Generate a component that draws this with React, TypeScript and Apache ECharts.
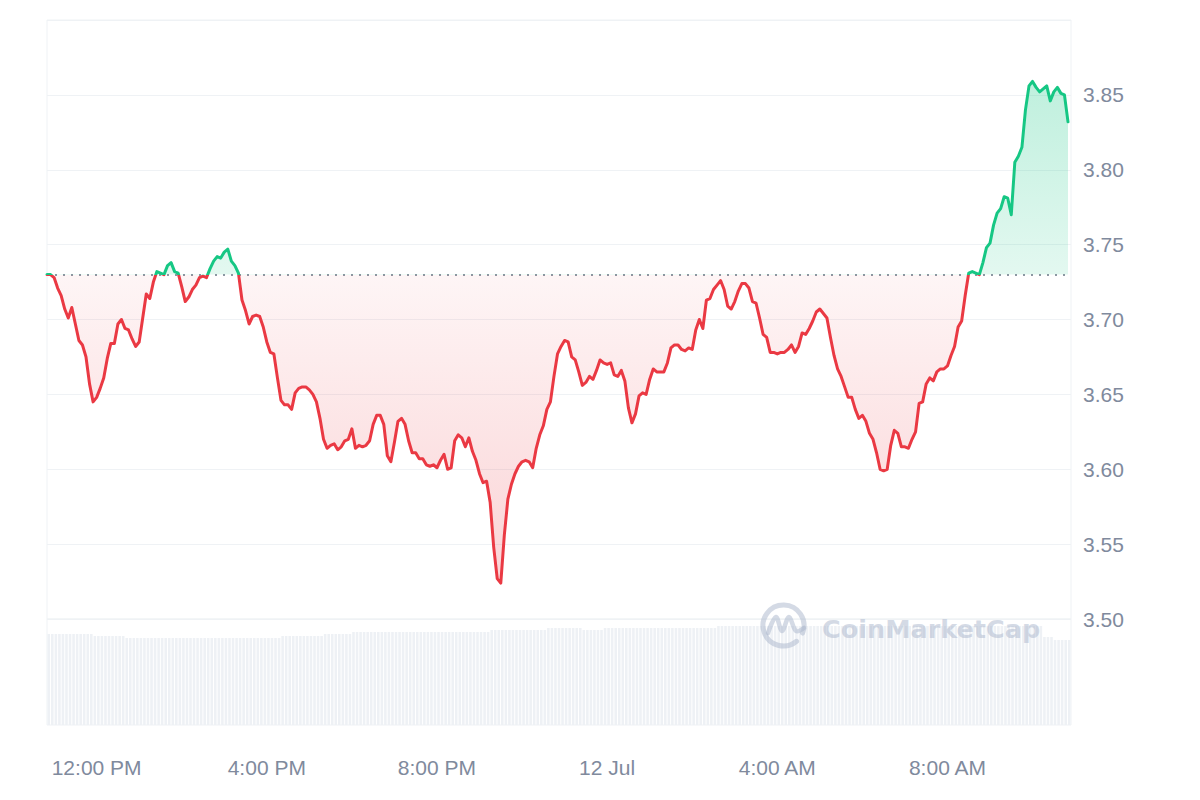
import React, { useEffect, useRef } from "react";
import * as echarts from "echarts";

// 5-minute price samples, starting 10:50 AM (11 Jul) to 10:50 AM (12 Jul)
const prices: number[] = [
  3.730, 3.730, 3.728, 3.721, 3.716, 3.707, 3.701, 3.708, 3.697, 3.686, 3.683, 3.675,
  3.657, 3.645, 3.648, 3.654, 3.661, 3.674, 3.684, 3.684, 3.697, 3.700, 3.694, 3.693,
  3.687, 3.682, 3.685, 3.701, 3.717, 3.714, 3.725, 3.732, 3.731, 3.730, 3.736, 3.738,
  3.732, 3.731, 3.722, 3.712, 3.715, 3.720, 3.723, 3.728, 3.729, 3.728, 3.734, 3.739,
  3.742, 3.741, 3.745, 3.747, 3.739, 3.736, 3.731, 3.713, 3.706, 3.697, 3.702, 3.703,
  3.702, 3.695, 3.685, 3.678, 3.677, 3.661, 3.646, 3.643, 3.643, 3.640, 3.651, 3.654,
  3.655, 3.655, 3.653, 3.650, 3.645, 3.634, 3.620, 3.614, 3.616, 3.617, 3.613, 3.615,
  3.619, 3.620, 3.627, 3.614, 3.616, 3.615, 3.616, 3.619, 3.630, 3.636, 3.636, 3.630,
  3.609, 3.605, 3.618, 3.632, 3.634, 3.630, 3.619, 3.611, 3.611, 3.607, 3.607, 3.603,
  3.602, 3.603, 3.601, 3.606, 3.610, 3.600, 3.601, 3.619, 3.623, 3.621, 3.615, 3.621,
  3.612, 3.606, 3.597, 3.591, 3.592, 3.578, 3.548, 3.527, 3.524, 3.556, 3.580, 3.590,
  3.597, 3.602, 3.605, 3.606, 3.605, 3.601, 3.614, 3.623, 3.629, 3.640, 3.645, 3.662,
  3.677, 3.682, 3.686, 3.685, 3.675, 3.673, 3.665, 3.656, 3.658, 3.662, 3.660, 3.666,
  3.673, 3.671, 3.670, 3.671, 3.663, 3.662, 3.666, 3.659, 3.641, 3.631, 3.637, 3.649,
  3.651, 3.650, 3.660, 3.667, 3.665, 3.665, 3.665, 3.671, 3.681, 3.683, 3.683, 3.680,
  3.679, 3.681, 3.680, 3.693, 3.700, 3.694, 3.713, 3.714, 3.720, 3.723, 3.726, 3.720,
  3.709, 3.707, 3.712, 3.719, 3.724, 3.724, 3.721, 3.712, 3.711, 3.701, 3.690, 3.688,
  3.678, 3.678, 3.677, 3.678, 3.678, 3.680, 3.683, 3.678, 3.682, 3.691, 3.690, 3.694,
  3.699, 3.705, 3.707, 3.704, 3.701, 3.688, 3.676, 3.667, 3.662, 3.655, 3.648, 3.648,
  3.640, 3.634, 3.636, 3.632, 3.624, 3.620, 3.611, 3.600, 3.599, 3.600, 3.616, 3.626,
  3.624, 3.615, 3.615, 3.614, 3.620, 3.625, 3.644, 3.645, 3.657, 3.661, 3.659, 3.665,
  3.667, 3.667, 3.669, 3.676, 3.682, 3.695, 3.699, 3.716, 3.731, 3.732, 3.731, 3.730,
  3.738, 3.748, 3.751, 3.763, 3.771, 3.774, 3.782, 3.781, 3.770, 3.805, 3.809, 3.815,
  3.840, 3.856, 3.859, 3.855, 3.852, 3.854, 3.856, 3.846, 3.852, 3.855, 3.851, 3.850, 3.832,
];

// volume bars (relative units), one per 5-minute slot
const volumes: number[] = [
  91, 91, 91, 91, 91, 91, 91, 91, 91, 91, 91, 91, 91,
  89, 89, 89, 89, 89, 89, 89, 89, 89,
  87, 87, 87, 87, 87, 87, 87, 87, 87, 87, 87, 87, 87, 87, 87, 87, 87, 87, 87, 87, 87, 87,
  87, 87, 87, 87, 87, 87, 87, 87, 87, 87, 87, 87, 87, 87, 87, 87, 87, 87, 87, 87, 87, 87,
  89, 89, 89, 89, 89, 89, 89, 89, 89, 89, 89, 89,
  91, 91, 91, 91, 91, 91, 91, 91,
  93, 93, 93, 93, 93, 93, 93, 93, 93, 93, 93, 93, 93, 93, 93, 93, 93, 93, 93, 93,
  93, 93, 93, 93, 93, 93, 93, 93, 93, 93, 93, 93, 93, 93, 93, 93, 93, 93, 93,
  95, 95, 95, 95, 95, 95, 95, 95, 95, 95, 95, 95, 95, 95, 95, 95,
  97, 97, 97, 97, 97, 97, 97, 97, 97, 97,
  95, 95, 95, 95, 95, 95,
  97, 97, 97, 97, 97, 97, 97, 97, 97, 97, 97, 97, 97, 97, 97, 97,
  97, 97, 97, 97, 97, 97, 97, 97, 97, 97, 97, 97, 97, 97, 97, 97,
  99, 99, 99, 99, 99, 99, 99, 99, 99, 99, 99, 99, 99, 99, 99, 99, 99, 99, 99, 99, 99, 99, 99,
  99, 99, 99, 99, 99, 99, 99, 99, 99, 99, 99, 99, 99, 99, 99, 99, 99, 99, 99, 99, 99, 99, 99,
  99, 99, 99, 99, 99, 99, 99, 99, 99, 99, 99, 99, 99, 99, 99, 99, 99, 99, 99, 99, 99, 99, 99,
  99, 99, 99, 99, 99, 99, 99, 99, 99, 99, 99, 99, 99, 99, 99, 99, 99, 99, 99, 99, 99, 99, 99,
  88, 88, 88,
  85, 85, 85, 85, 85,
];

const baseline = 3.73;
const tickIndices = [14, 62, 110, 158, 206, 254];
const tickLabels = ["12:00 PM", "4:00 PM", "8:00 PM", "12 Jul", "4:00 AM", "8:00 AM"];
const yMin = 3.5;
const yMax = 3.9;
const yStep = 0.05;

const RED = "#ea3943";
const GREEN = "#16c784";

export default function App() {
  const ref = useRef<HTMLDivElement>(null);

  useEffect(() => {
    if (!ref.current) return;
    const chart = echarts.init(ref.current, null, { renderer: "svg" });

    const gTop = 20;
    const gBottomPx = 619;
    const split = 1 - (baseline - yMin) / (yMax - yMin);

    const lineColor = new echarts.graphic.LinearGradient(0, gTop, 0, gBottomPx, [
      { offset: 0, color: GREEN },
      { offset: split, color: GREEN },
      { offset: split, color: RED },
      { offset: 1, color: RED },
    ], true);
    const areaColor = new echarts.graphic.LinearGradient(0, gTop, 0, gBottomPx, [
      { offset: 0, color: "rgba(22,199,132,0.46)" },
      { offset: split, color: "rgba(22,199,132,0.17)" },
      { offset: split, color: "rgba(234,57,67,0.07)" },
      { offset: 1, color: "rgba(234,57,67,0.34)" },
    ], true);

    const labelMap: Record<number, string> = {};
    tickIndices.forEach((t, k) => (labelMap[t] = tickLabels[k]));

    const lastX = (prices.length - 1) * 1024 / 1021;

    chart.setOption({
      animation: false,
      backgroundColor: "#ffffff",
      grid: [
        { left: 47, right: 129, top: gTop, height: gBottomPx - gTop, show: true, borderColor: "#eff2f5", borderWidth: 1, backgroundColor: "transparent" },
        { left: 47, right: 129, top: gBottomPx, bottom: 75, show: true, borderColor: "#eff2f5", borderWidth: 1, backgroundColor: "transparent" },
      ],
      xAxis: [
        {
          type: "value",
          gridIndex: 0,
          min: 0,
          max: lastX,
          interval: 2,
          axisLine: { show: false },
          axisTick: { show: false },
          splitLine: { show: false },
          axisLabel: {
            margin: 138,
            color: "#808a9d",
            fontSize: 21,
            fontFamily: "Liberation Sans, Arial, sans-serif",
            formatter: (v: number) => labelMap[Math.round(v)] && Math.abs(v - Math.round(v)) < 1e-6 ? labelMap[Math.round(v)] : "",
          },
        },
        {
          type: "category",
          gridIndex: 1,
          data: volumes.map((_, i) => i),
          boundaryGap: true,
          show: false,
        },
      ],
      yAxis: [
        {
          type: "value",
          gridIndex: 0,
          position: "right",
          min: yMin,
          max: yMax,
          interval: yStep,
          axisLine: { show: false },
          axisTick: { show: false },
          splitLine: { show: true, lineStyle: { color: "#eff2f5", width: 1 } },
          axisLabel: {
            showMaxLabel: false,
            margin: 12,
            color: "#808a9d",
            fontSize: 21,
            fontFamily: "Liberation Sans, Arial, sans-serif",
            formatter: (v: number) => v.toFixed(2),
          },
        },
        {
          type: "value",
          gridIndex: 1,
          min: 0,
          max: 106,
          show: false,
          splitLine: { show: false },
        },
      ],
      series: [
        {
          type: "bar",
          xAxisIndex: 1,
          yAxisIndex: 1,
          data: volumes,
          barCategoryGap: "28%",
          itemStyle: { color: "#eef1f5" },
          silent: true,
          z: 1,
        },
        {
          type: "line",
          xAxisIndex: 0,
          yAxisIndex: 0,
          data: prices.map((v, i) => [i, v]),
          symbol: "none",
          showSymbol: false,
          lineStyle: { width: 3, color: lineColor, join: "round", cap: "round" },
          areaStyle: { origin: baseline, color: areaColor },
          z: 3,
          markLine: {
            silent: true,
            symbol: ["none", "none"],
            label: { show: false },
            lineStyle: { color: "#8f96a3", type: [2, 6], width: 2 },
            data: [{ yAxis: baseline }],
            z: 2,
          },
        },
      ],
      graphic: [
        {
          type: "arc",
          z: 100,
          shape: { cx: 783.5, cy: 625.5, r: 20.5, startAngle: Math.PI * 0.28, endAngle: Math.PI * 2.12, clockwise: true },
          style: { stroke: "rgba(170,182,204,0.5)", lineWidth: 5, fill: "none", lineCap: "round" },
        },
        {
          type: "polyline",
          z: 100,
          shape: { points: [[768, 633], [776, 617], [782, 631], [789, 617], [796, 631], [804, 628]], smooth: 0.35 },
          style: { stroke: "rgba(170,182,204,0.5)", lineWidth: 4.5, fill: "none", lineCap: "round", lineJoin: "round" },
        },
        {
          type: "text",
          z: 100,
          x: 822,
          y: 629,
          style: {
            text: "CoinMarketCap",
            fill: "rgba(170,182,204,0.5)",
            font: "bold 25.5px 'DejaVu Sans', sans-serif",
            textVerticalAlign: "middle",
            textAlign: "left",
          },
        },
      ],
    });

    return () => chart.dispose();
  }, []);

  return <div ref={ref} style={{ position: "fixed", left: 0, top: 0, width: 1200, height: 800 }} />;
}
